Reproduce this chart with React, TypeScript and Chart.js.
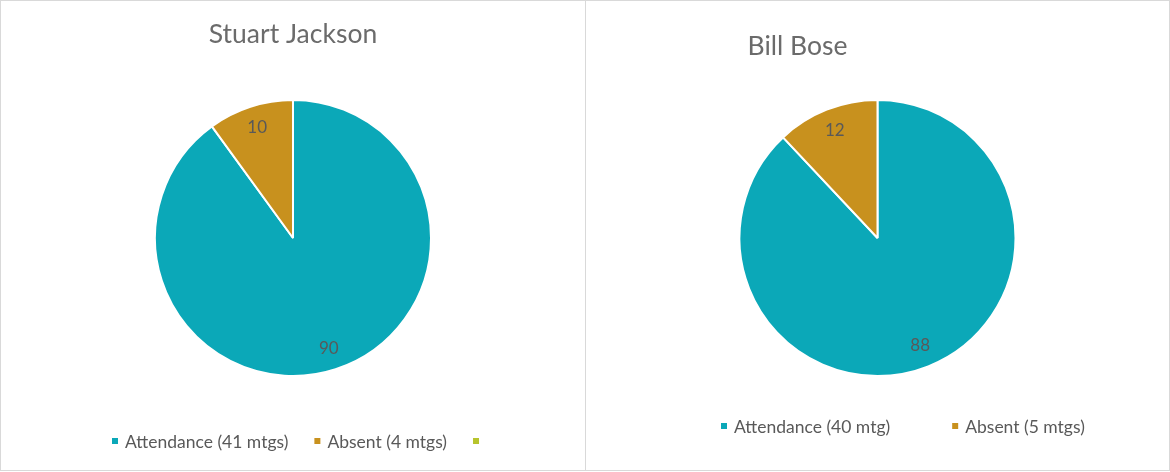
import React, { useEffect, useRef } from "react";
import { Chart, registerables } from "chart.js";

Chart.register(...registerables);

// ---- data ----
const titleLeft = "Stuart Jackson";
const categoriesLeft = ["Attendance (41 mtgs)", "Absent (4 mtgs)", ""];
const valuesLeft = [90, 10, 0];

const titleRight = "Bill Bose";
const categoriesRight = ["Attendance (40 mtg)", "Absent (5 mtgs)"];
const valuesRight = [88, 12];

const sliceColors = ["#0BA8B8", "#C8911E", "#B7C42C"];

const FONT = "Lato, 'Noto Sans', sans-serif";
const TEXT = "#595959";
const TITLE_TEXT = "#6b6b6b";

const decorPlugin = {
  id: "decor",
  afterDatasetsDraw(chart: any, _args: any, opts: any) {
    const ctx = chart.ctx as CanvasRenderingContext2D;
    const meta = chart.getDatasetMeta(0);
    const ds = chart.data.datasets[0];
    ctx.save();
    ctx.textAlign = "center";
    ctx.textBaseline = "middle";
    ctx.fillStyle = TEXT;
    ctx.font = `${opts.labelSize}px ${FONT}`;
    meta.data.forEach((arc: any, i: number) => {
      const v = ds.data[i];
      if (!v) return;
      const p = arc.getProps(["startAngle", "endAngle", "outerRadius", "x", "y"], true);
      const mid = (p.startAngle + p.endAngle) / 2;
      const r = p.outerRadius * opts.labelRadius;
      ctx.fillText(String(v), p.x + Math.cos(mid) * r, p.y + Math.sin(mid) * r);
    });
    // title
    ctx.fillStyle = TITLE_TEXT;
    ctx.font = `${opts.titleSize}px ${FONT}`;
    ctx.fillText(opts.title, opts.titleX, opts.titleY);
    // legend
    ctx.font = `${opts.legendSize}px ${FONT}`;
    ctx.textAlign = "left";
    let lx = opts.legendX;
    (chart.data.labels as string[]).forEach((lab, i) => {
      ctx.fillStyle = sliceColors[i];
      ctx.fillRect(lx, opts.legendY - 3, 6, 6);
      lx += 6 + 7;
      ctx.fillStyle = TEXT;
      ctx.fillText(lab, lx, opts.legendY + 1);
      lx += ctx.measureText(lab).width + opts.legendGap;
    });
    ctx.restore();
  },
};

function PieBox(props: {
  labels: string[];
  values: number[];
  width: number;
  height: number;
  decor: any;
}) {
  const ref = useRef<HTMLCanvasElement>(null);
  useEffect(() => {
    if (!ref.current) return;
    const chart = new Chart(ref.current, {
      type: "pie",
      data: {
        labels: props.labels,
        datasets: [
          {
            data: props.values,
            backgroundColor: sliceColors.slice(0, props.values.length),
            borderColor: "#ffffff",
            borderWidth: 2,
          },
        ],
      },
      options: {
        responsive: false,
        animation: false,
        layout: { padding: { top: 98, bottom: 93, left: 0, right: 0 } },
        plugins: {
          legend: { display: false },
          title: { display: false },
          tooltip: { enabled: false },
          decor: props.decor,
        } as any,
      },
      plugins: [decorPlugin],
    });
    return () => chart.destroy();
  }, []);
  return (
    <canvas
      ref={ref}
      width={props.width}
      height={props.height}
      style={{ display: "block", width: props.width, height: props.height }}
    />
  );
}

export default function App() {
  const boxStyle = (left: number, width: number): React.CSSProperties => ({
    position: "absolute",
    left,
    top: 0,
    width,
    height: 471,
    border: "1px solid #d9d9d9",
    boxSizing: "border-box",
    background: "#fff",
  });
  return (
    <div style={{ position: "absolute", left: 0, top: 0, width: 1170, height: 472, background: "#fff" }}>
      <div style={boxStyle(0, 586)}>
        <PieBox
          labels={categoriesLeft}
          values={valuesLeft}
          width={584}
          height={469}
          decor={{
            title: titleLeft,
            titleX: 292,
            titleY: 33,
            titleSize: 26.5,
            labelSize: 17,
            labelRadius: 0.84,
            legendSize: 17.5,
            legendX: 111,
            legendY: 440,
            legendGap: 26,
          }}
        />
      </div>
      <div style={boxStyle(585, 585)}>
        <PieBox
          labels={categoriesRight}
          values={valuesRight}
          width={583}
          height={469}
          decor={{
            title: titleRight,
            titleX: 211.5,
            titleY: 45,
            titleSize: 26.5,
            labelSize: 17,
            labelRadius: 0.84,
            legendSize: 17.5,
            legendX: 135,
            legendY: 425,
            legendGap: 62,
          }}
        />
      </div>
    </div>
  );
}
